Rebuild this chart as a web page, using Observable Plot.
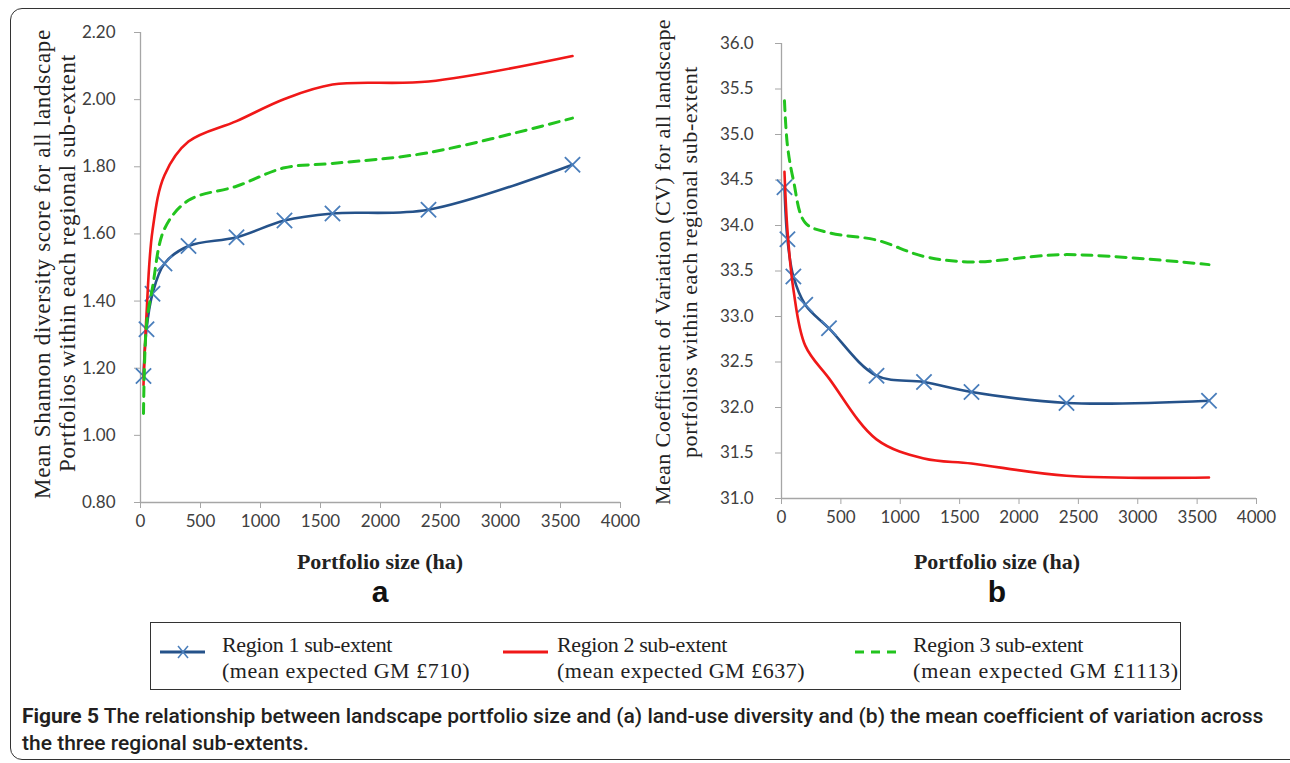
<!DOCTYPE html>
<html>
<head>
<meta charset="utf-8">
<script src="https://cdn.jsdelivr.net/npm/d3@7"></script>
<script src="https://cdn.jsdelivr.net/npm/@observablehq/plot@0.6"></script>
<style>
  html, body { margin: 0; padding: 0; background: #fff; }
  #page { position: relative; width: 1290px; height: 763px; overflow: hidden; background: #fff; }
  #frame { position: absolute; left: 10px; top: 8px; width: 1300px; height: 752px; border: 1.5px solid #333; border-radius: 12px; box-sizing: border-box; }
  .chart { position: absolute; top: 0; }
  .ytitle { position: absolute; font-family: "Liberation Serif", serif; color: #222; white-space: nowrap; text-align: center; transform: rotate(-90deg); }
  .xtitle { position: absolute; font-family: "Liberation Serif", serif; font-weight: bold; font-size: 22px; color: #222; white-space: nowrap; transform: translate(-50%, -50%); }
  .panel { position: absolute; font-family: "Liberation Sans", Arial, sans-serif; font-weight: bold; font-size: 30px; color: #111; transform: translate(-50%, -50%); }
  #legend { position: absolute; left: 150px; top: 622px; width: 1031px; height: 68px; border: 1.5px solid #333; box-sizing: border-box; }
  .ltext { position: absolute; font-family: "Liberation Serif", serif; font-size: 22px; color: #222; white-space: nowrap; line-height: 26px; }
  .cap { position: absolute; left: 22px; font-family: Roboto, "Noto Sans", sans-serif; font-size: 21px; font-weight: 500; color: #231f20; white-space: nowrap; }
  .cap b { font-weight: 700; }
</style>
</head>
<body>
<div id="page">
  <div id="frame"></div>
  <div id="chartA" class="chart" style="left:0px"></div>
  <div id="chartB" class="chart" style="left:640px"></div>
</div>
<script>
// ---------- data ----------
const portfolioSizes = [25, 50, 100, 200, 400, 800, 1200, 1600, 2400, 3600];
const shannonRegion1 = [1.177, 1.316, 1.422, 1.512, 1.564, 1.590, 1.640, 1.661, 1.672, 1.806];
const shannonRegion2 = [1.150, 1.360, 1.610, 1.775, 1.875, 1.936, 2.002, 2.045, 2.054, 2.130];
const shannonRegion3 = [1.065, 1.330, 1.440, 1.615, 1.700, 1.742, 1.797, 1.810, 1.842, 1.945];
const cvRegion1 = [34.42, 33.85, 33.44, 33.13, 32.87, 32.35, 32.28, 32.17, 32.05, 32.075];
const cvRegion2 = [34.59, 33.95, 33.30, 32.68, 32.32, 31.65, 31.44, 31.385, 31.25, 31.23];
const cvRegion3 = [35.37, 34.88, 34.50, 34.03, 33.92, 33.84, 33.66, 33.60, 33.68, 33.57];
const xTicks = [0, 500, 1000, 1500, 2000, 2500, 3000, 3500, 4000];
const shannonTicks = [0.8, 1.0, 1.2, 1.4, 1.6, 1.8, 2.0, 2.2];
const cvTicks = [31.0, 31.5, 32.0, 32.5, 33.0, 33.5, 34.0, 34.5, 35.0, 35.5, 36.0];
const seriesNames = ["Region 1 sub-extent", "Region 2 sub-extent", "Region 3 sub-extent"];
const seriesNotes = ["(mean expected GM £710)", "(mean expected GM £637)", "(mean expected GM £1113)"];
const yTitleA = ["Mean Shannon diversity score for all landscape", "Portfolios within each regional sub-extent"];
const yTitleB = ["Mean Coefficient of Variation (CV) for all landscape", "portfolios within each regional sub-extent"];
const xTitle = "Portfolio size (ha)";
const captionBold = "Figure 5";
const captionLine1 = " The relationship between landscape portfolio size and (a) land-use diversity and (b) the mean coefficient of variation across";
const captionLine2 = "the three regional sub-extents.";

const BLUE_LINE = "#25528a", BLUE_MARK = "#4a7ebb", RED = "#f01818", GREEN = "#22c41e", AXIS = "#a6a6a6", TICKTXT = "#404040";

const rows = (vals) => portfolioSizes.map((x, i) => ({x, y: vals[i]}));

function makeChart(r1, r2, r3, yDomain, yTicks, fmt, dims) {
  return Plot.plot({
    width: dims.width, height: dims.height,
    marginLeft: dims.ml, marginRight: dims.mr, marginTop: dims.mt, marginBottom: dims.mb,
    x: {domain: [0, 4000]},
    y: {domain: yDomain},
    style: {fontFamily: "Lato, 'Open Sans', sans-serif", fontSize: "17px", color: TICKTXT, background: "transparent", overflow: "visible"},
    marks: [
      Plot.ruleX([0], {stroke: AXIS, strokeWidth: 1.3}),
      Plot.ruleY([yDomain[0]], {stroke: AXIS, strokeWidth: 1.3}),
      Plot.axisX({ticks: xTicks, tickFormat: d => String(d), tickSize: 6, tickPadding: 6, stroke: AXIS, fill: TICKTXT, label: null, fontSize: 17}),
      Plot.axisY({ticks: yTicks, tickFormat: fmt, tickSize: 6, tickPadding: dims.tp, stroke: AXIS, fill: TICKTXT, label: null, fontSize: 17}),
      Plot.line(rows(r1), {x: "x", y: "y", curve: "catmull-rom", stroke: BLUE_LINE, strokeWidth: 2.6}),
      Plot.dot(rows(r1), {x: "x", y: "y", symbol: "times", r: 7, stroke: BLUE_MARK, strokeWidth: 1.8}),
      Plot.line(rows(r2), {x: "x", y: "y", curve: "catmull-rom", stroke: RED, strokeWidth: 2.6}),
      Plot.line(rows(r3), {x: "x", y: "y", curve: "catmull-rom", stroke: GREEN, strokeWidth: 3, strokeDasharray: "10,7"})
    ]
  });
}

document.getElementById("chartA").appendChild(
  makeChart(shannonRegion1, shannonRegion2, shannonRegion3, [0.8, 2.2], shannonTicks, d => d.toFixed(2),
    {width: 640, height: 540, ml: 140, mr: 20, mt: 32, mb: 38, tp: 19}));
document.getElementById("chartB").appendChild(
  makeChart(cvRegion1, cvRegion2, cvRegion3, [31, 36], cvTicks, d => d.toFixed(1),
    {width: 650, height: 540, ml: 141, mr: 34, mt: 43, mb: 42, tp: 22}));

const page = document.getElementById("page");
function addDiv(cls, html, style) {
  const d = document.createElement("div");
  d.className = cls; d.innerHTML = html;
  Object.assign(d.style, style);
  page.appendChild(d);
  return d;
}
function fit(el, target) {
  const w = el.getBoundingClientRect().width;
  const n = el.textContent.length;
  if (n > 1) el.style.letterSpacing = ((target - w) / n) + "px";
}
function yLine(text, cx, cy, len, size) {
  const d = addDiv("ytitle", text, {fontSize: size + "px", lineHeight: "26px"});
  d.style.transform = "none";
  fit(d, len);
  const w = d.getBoundingClientRect().width, h = 26;
  d.style.left = (cx - w / 2) + "px";
  d.style.top = (cy - h / 2) + "px";
  d.style.transform = "rotate(-90deg)";
}
yLine(yTitleA[0], 43, 264, 470, 23);
yLine(yTitleA[1], 68, 263, 418, 23);
yLine(yTitleB[0], 663, 262, 486, 22);
yLine(yTitleB[1], 690, 262, 392, 22);

addDiv("xtitle", xTitle, {left: "380px", top: "562px"});
addDiv("xtitle", xTitle, {left: "997px", top: "562px"});
addDiv("panel", "a", {left: "380px", top: "592px"});
addDiv("panel", "b", {left: "997px", top: "592px"});

// legend
const legend = document.createElement("div");
legend.id = "legend";
page.appendChild(legend);
const NS = "http://www.w3.org/2000/svg";
const sw = document.createElementNS(NS, "svg");
sw.setAttribute("width", 1290); sw.setAttribute("height", 763);
Object.assign(sw.style, {position: "absolute", left: "0px", top: "0px", pointerEvents: "none"});
page.appendChild(sw);
function ln(x1, y1, x2, y2, stroke, w, dash) {
  const l = document.createElementNS(NS, "line");
  l.setAttribute("x1", x1); l.setAttribute("y1", y1); l.setAttribute("x2", x2); l.setAttribute("y2", y2);
  l.setAttribute("stroke", stroke); l.setAttribute("stroke-width", w);
  if (dash) l.setAttribute("stroke-dasharray", dash);
  sw.appendChild(l);
}
ln(160, 652, 205, 652, BLUE_LINE, 2.8);
ln(178, 646, 188, 658, BLUE_MARK, 1.5); ln(188, 646, 178, 658, BLUE_MARK, 1.5);
ln(503, 652, 548, 652, RED, 2.8);
ln(855, 652, 900, 652, GREEN, 3, "9,7");
const legX = [222, 557, 913];
seriesNames.forEach((s, i) => {
  const a = addDiv("ltext", s, {left: legX[i] + "px", top: "632px"});
  fit(a, 170);
  const b = addDiv("ltext", seriesNotes[i], {left: legX[i] + "px", top: "658px"});
  fit(b, i === 2 ? 266 : 248);
});

// caption
const c1 = addDiv("cap", "<b>" + captionBold + "</b>" + captionLine1, {top: "704px"});
fit(c1, 1240);
const c2 = addDiv("cap", captionLine2, {top: "731px"});
c2.style.letterSpacing = c1.style.letterSpacing;
</script>
</body>
</html>
